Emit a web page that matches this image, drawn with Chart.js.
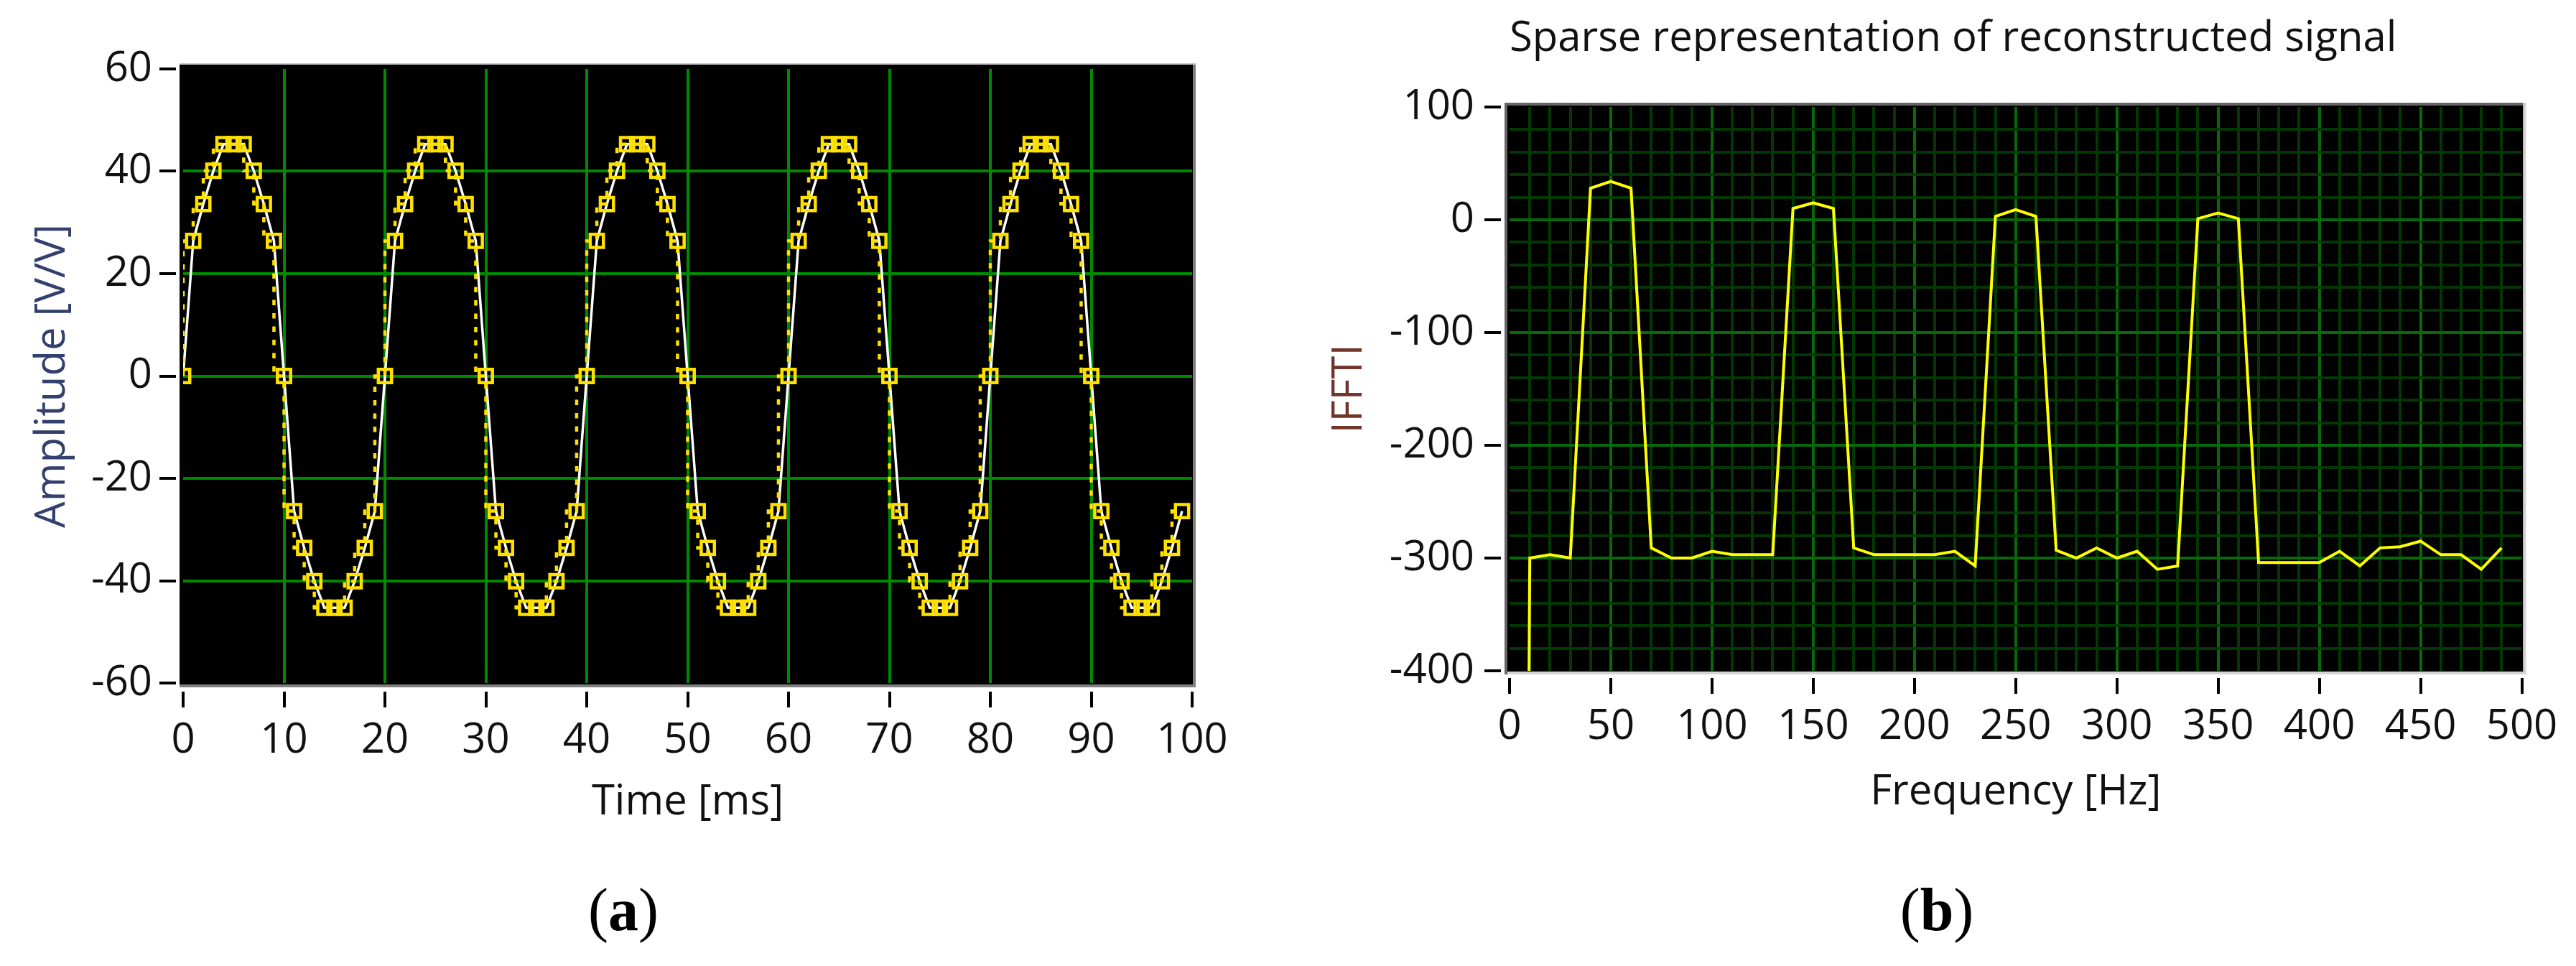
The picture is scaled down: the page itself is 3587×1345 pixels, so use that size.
<!DOCTYPE html>
<html>
<head>
  <meta charset="utf-8" />
  <title>Signal and sparse spectrum</title>
  <script src="https://cdn.jsdelivr.net/npm/chart.js"></script>
  <style>
    body { margin: 0; width: 3587px; height: 1345px; background: #fff; position: relative; overflow: hidden; }
    canvas { position: absolute; top: 0; }
    .caption { position: absolute; top: 1225px; font-family: "Liberation Serif", serif; font-size: 84px; line-height: 1; transform: translateX(-50%); color: #000; white-space: nowrap; }
  </style>
</head>

<body>
  <canvas id="timeChart" width="1790" height="1200" style="left: 0"></canvas>
  <canvas id="freqChart" width="1797" height="1200" style="left: 1790px"></canvas>
  <div class="caption" style="left: 868px">(<b>a</b>)</div>
  <div class="caption" style="left: 2697px">(<b>b</b>)</div>
</body>

<script>
  // (a) time signal, one sample per ms
  const timeMs = [
    0, 1, 2, 3, 4, 5, 6, 7, 8, 9, 10, 11, 12, 13, 14, 15, 16, 17, 18, 19,
    20, 21, 22, 23, 24, 25, 26, 27, 28, 29, 30, 31, 32, 33, 34, 35, 36, 37, 38, 39,
    40, 41, 42, 43, 44, 45, 46, 47, 48, 49, 50, 51, 52, 53, 54, 55, 56, 57, 58, 59,
    60, 61, 62, 63, 64, 65, 66, 67, 68, 69, 70, 71, 72, 73, 74, 75, 76, 77, 78, 79,
    80, 81, 82, 83, 84, 85, 86, 87, 88, 89, 90, 91, 92, 93, 94, 95, 96, 97, 98, 99,
  ];
  // white trace and yellow markers sit on the same sample values
  const sampleAmp = [
    0, 26.4, 33.6, 40.1, 45.3, 45.3, 45.3, 40.1, 33.6, 26.4, 0, -26.4, -33.6, -40.1, -45.3, -45.3, -45.3, -40.1, -33.6, -26.4,
    0, 26.4, 33.6, 40.1, 45.3, 45.3, 45.3, 40.1, 33.6, 26.4, 0, -26.4, -33.6, -40.1, -45.3, -45.3, -45.3, -40.1, -33.6, -26.4,
    0, 26.4, 33.6, 40.1, 45.3, 45.3, 45.3, 40.1, 33.6, 26.4, 0, -26.4, -33.6, -40.1, -45.3, -45.3, -45.3, -40.1, -33.6, -26.4,
    0, 26.4, 33.6, 40.1, 45.3, 45.3, 45.3, 40.1, 33.6, 26.4, 0, -26.4, -33.6, -40.1, -45.3, -45.3, -45.3, -40.1, -33.6, -26.4,
    0, 26.4, 33.6, 40.1, 45.3, 45.3, 45.3, 40.1, 33.6, 26.4, 0, -26.4, -33.6, -40.1, -45.3, -45.3, -45.3, -40.1, -33.6, -26.4,
  ];
  const timeTicks = [0, 10, 20, 30, 40, 50, 60, 70, 80, 90, 100];
  const ampTicks = [-60, -40, -20, 0, 20, 40, 60];

  // (b) spectrum, 10 Hz bins (DC bin is off the bottom of the scale)
  const freqHz = [
    0, 10, 20, 30, 40, 50, 60, 70, 80, 90, 100, 110, 120, 130, 140, 150, 160, 170, 180, 190,
    200, 210, 220, 230, 240, 250, 260, 270, 280, 290, 300, 310, 320, 330, 340, 350, 360, 370, 380, 390,
    400, 410, 420, 430, 440, 450, 460, 470, 480, 490,
  ];
  const ifftMag = [
    -3000, -300, -297, -300, 28, 34, 28, -291, -300, -300, -294, -297, -297, -297, 10, 15, 10, -291, -297, -297,
    -297, -297, -294, -307, 3, 9, 3, -293, -300, -291, -300, -294, -310, -307, 1, 6, 1, -304, -304, -304,
    -304, -294, -307, -291, -290, -285, -297, -297, -310, -291,
  ];
  const freqTicks = [0, 50, 100, 150, 200, 250, 300, 350, 400, 450, 500];
  const ifftTicks = [-400, -300, -200, -100, 0, 100];
  const freqMinorStep = 10;
  const ifftMinorStep = 20;

  const sans = "'Open Sans', 'Noto Sans', sans-serif";
  const tickFont = { family: sans, size: 58 };
  const textColor = "#111";
  const clear = "rgba(0,0,0,0)";

  function fillSpec(ctx, a, r) {
    const x0 = a[r.x0[0]] + r.x0[1], x1 = a[r.x1[0]] + r.x1[1];
    const y0 = a[r.y0[0]] + r.y0[1], y1 = a[r.y1[0]] + r.y1[1];
    ctx.fillStyle = r.color;
    ctx.fillRect(x0, y0, x1 - x0, y1 - y0);
  }

  // black plot face before the grid, frame + gap to tick marks after the axes
  function framePlugin(id, bg, rects) {
    return {
      id: id,
      beforeDraw(chart) {
        chart.ctx.save();
        fillSpec(chart.ctx, chart.chartArea, bg);
        chart.ctx.restore();
      },
      beforeDatasetsDraw(chart) {
        chart.ctx.save();
        rects.forEach((r) => fillSpec(chart.ctx, chart.chartArea, r));
        chart.ctx.restore();
      },
    };
  }

  const timeFrame = framePlugin(
    "timeFrame",
    { color: "#000", x0: ["left", -5], x1: ["right", 1], y0: ["top", -6], y1: ["bottom", 2] },
    [
      { color: "#fff", x0: ["left", -10], x1: ["left", -5], y0: ["top", -40], y1: ["bottom", 40] },
      { color: "#fff", x0: ["left", -40], x1: ["right", 40], y0: ["bottom", 6], y1: ["bottom", 12] },
      { color: "#c8c8c8", x0: ["left", -5], x1: ["right", 5], y0: ["top", -8], y1: ["top", -6] },
      { color: "#808080", x0: ["right", 1], x1: ["right", 5], y0: ["top", -6], y1: ["bottom", 6] },
      { color: "#808080", x0: ["left", -5], x1: ["right", 5], y0: ["bottom", 2], y1: ["bottom", 6] },
    ]
  );

  const freqFrame = framePlugin(
    "freqFrame",
    { color: "#000", x0: ["left", -3], x1: ["right", 2], y0: ["top", -2], y1: ["bottom", 1] },
    [
      { color: "#fff", x0: ["left", -12], x1: ["left", -7], y0: ["top", -40], y1: ["bottom", 40] },
      { color: "#fff", x0: ["left", -40], x1: ["right", 40], y0: ["bottom", 5], y1: ["bottom", 10] },
      { color: "#666", x0: ["left", -7], x1: ["right", 2], y0: ["top", -6], y1: ["top", -2] },
      { color: "#666", x0: ["left", -7], x1: ["left", -3], y0: ["top", -6], y1: ["bottom", 5] },
      { color: "#d4d4d4", x0: ["right", 2], x1: ["right", 6], y0: ["top", -6], y1: ["bottom", 5] },
      { color: "#d4d4d4", x0: ["left", -3], x1: ["right", 6], y0: ["bottom", 1], y1: ["bottom", 5] },
    ]
  );

  function isEdge(ctx, list) {
    const v = ctx.tick && ctx.tick.value;
    return v === list[0] || v === list[list.length - 1];
  }

  new Chart(document.getElementById("timeChart"), {
    type: "line",
    data: {
      datasets: [
        {
          label: "Reconstructed",
          data: timeMs.map((t, i) => ({ x: t, y: sampleAmp[i] })),
          stepped: "after",
          borderColor: "#ffe100",
          borderWidth: 4.5,
          borderDash: [7.5, 11],
          pointStyle: "rect",
          pointRadius: 13,
          pointBorderWidth: 4.5,
          pointBorderColor: "#ffe100",
          pointBackgroundColor: clear,
        },
        {
          label: "Original",
          data: timeMs.map((t, i) => ({ x: t, y: sampleAmp[i] })),
          borderColor: "#ffffff",
          borderWidth: 3.5,
          pointRadius: 0,
        },
      ],
    },
    options: {
      responsive: false,
      animation: false,
      events: [],
      layout: { padding: { left: 0, top: 96, right: 130, bottom: 0 } },
      plugins: { legend: { display: false }, tooltip: { enabled: false } },
      scales: {
        x: {
          type: "linear",
          min: 0,
          max: 100,
          afterBuildTicks: (s) => { s.ticks = timeTicks.map((v) => ({ value: v })); },
          afterFit: (s) => { s.height = 249; },
          border: { display: false },
          grid: {
            color: (ctx) => (isEdge(ctx, timeTicks) ? clear : "#008a00"),
            lineWidth: 4,
            tickLength: 34,
            tickWidth: 4,
            tickColor: "#000",
          },
          ticks: { font: tickFont, color: textColor, padding: 12, autoSkip: false, maxRotation: 0, callback: (v) => String(v) },
          title: { display: true, text: "Time [ms]", font: tickFont, color: textColor, padding: { top: 0, bottom: 48 } },
        },
        y: {
          type: "linear",
          min: -60,
          max: 60,
          afterBuildTicks: (s) => { s.ticks = ampTicks.map((v) => ({ value: v })); },
          afterFit: (s) => { s.width = 255; },
          border: { display: false },
          grid: {
            color: (ctx) => (isEdge(ctx, ampTicks) ? clear : "#008a00"),
            lineWidth: 4,
            tickLength: 33,
            tickWidth: 4,
            tickColor: "#000",
          },
          ticks: { font: tickFont, color: textColor, padding: 10, callback: (v) => String(v) },
          title: { display: true, text: "Amplitude [V/V]", font: tickFont, color: "#33406e", padding: { top: 39, bottom: 0 } },
        },
      },
    },
    plugins: [timeFrame],
  });

  new Chart(document.getElementById("freqChart"), {
    type: "line",
    data: {
      datasets: [
        {
          label: "IFFTI",
          data: freqHz.map((f, i) => ({ x: f, y: ifftMag[i] })),
          borderColor: "#ffff00",
          borderWidth: 4,
          pointRadius: 0,
        },
      ],
    },
    options: {
      responsive: false,
      animation: false,
      events: [],
      layout: { padding: { left: 0, top: 0, right: 75.5, bottom: 0 } },
      plugins: {
        legend: { display: false },
        tooltip: { enabled: false },
        title: {
          display: true,
          text: "Sparse representation of reconstructed signal",
          align: "start",
          fullSize: false,
          font: { family: sans, size: 58, weight: "normal" },
          color: textColor,
          padding: { top: 20, bottom: 59.4 },
        },
      },
      scales: {
        x: {
          type: "linear",
          min: 0,
          max: 500,
          afterBuildTicks: (s) => {
            const list = [];
            for (let v = freqTicks[0]; v <= freqTicks[freqTicks.length - 1]; v += freqMinorStep) list.push({ value: v });
            s.ticks = list;
          },
          afterFit: (s) => { s.height = 266; },
          border: { display: false },
          grid: {
            color: (ctx) => (isEdge(ctx, freqTicks) ? clear : freqTicks.includes(ctx.tick.value) ? "#07690a" : "#033803"),
            lineWidth: 4,
            tickLength: 32,
            tickWidth: 4,
            tickColor: (ctx) => (freqTicks.includes(ctx.tick.value) ? "#000" : clear),
          },
          ticks: {
            font: tickFont,
            color: textColor,
            padding: 12,
            autoSkip: false,
            maxRotation: 0,
            callback: (v) => (freqTicks.includes(v) ? String(v) : ""),
          },
          title: { display: true, text: "Frequency [Hz]", font: tickFont, color: textColor, padding: { top: 0, bottom: 62 } },
        },
        y: {
          type: "linear",
          min: -400,
          max: 100,
          afterBuildTicks: (s) => {
            const list = [];
            for (let v = ifftTicks[0]; v <= ifftTicks[ifftTicks.length - 1]; v += ifftMinorStep) list.push({ value: v });
            s.ticks = list;
          },
          afterFit: (s) => { s.width = 312; },
          border: { display: false },
          grid: {
            color: (ctx) => (isEdge(ctx, ifftTicks) ? clear : ifftTicks.includes(ctx.tick.value) ? "#07690a" : "#033803"),
            lineWidth: 4,
            tickLength: 35,
            tickWidth: 4,
            tickColor: (ctx) => (ifftTicks.includes(ctx.tick.value) ? "#000" : clear),
          },
          ticks: {
            font: tickFont,
            color: textColor,
            padding: 14,
            autoSkip: false,
            callback: (v) => (ifftTicks.includes(v) ? String(v) : ""),
          },
          title: { display: true, text: "IFFTI", font: tickFont, color: "#703428", padding: { top: 55, bottom: 0 } },
        },
      },
    },
    plugins: [freqFrame],
  });
</script>
</html>
